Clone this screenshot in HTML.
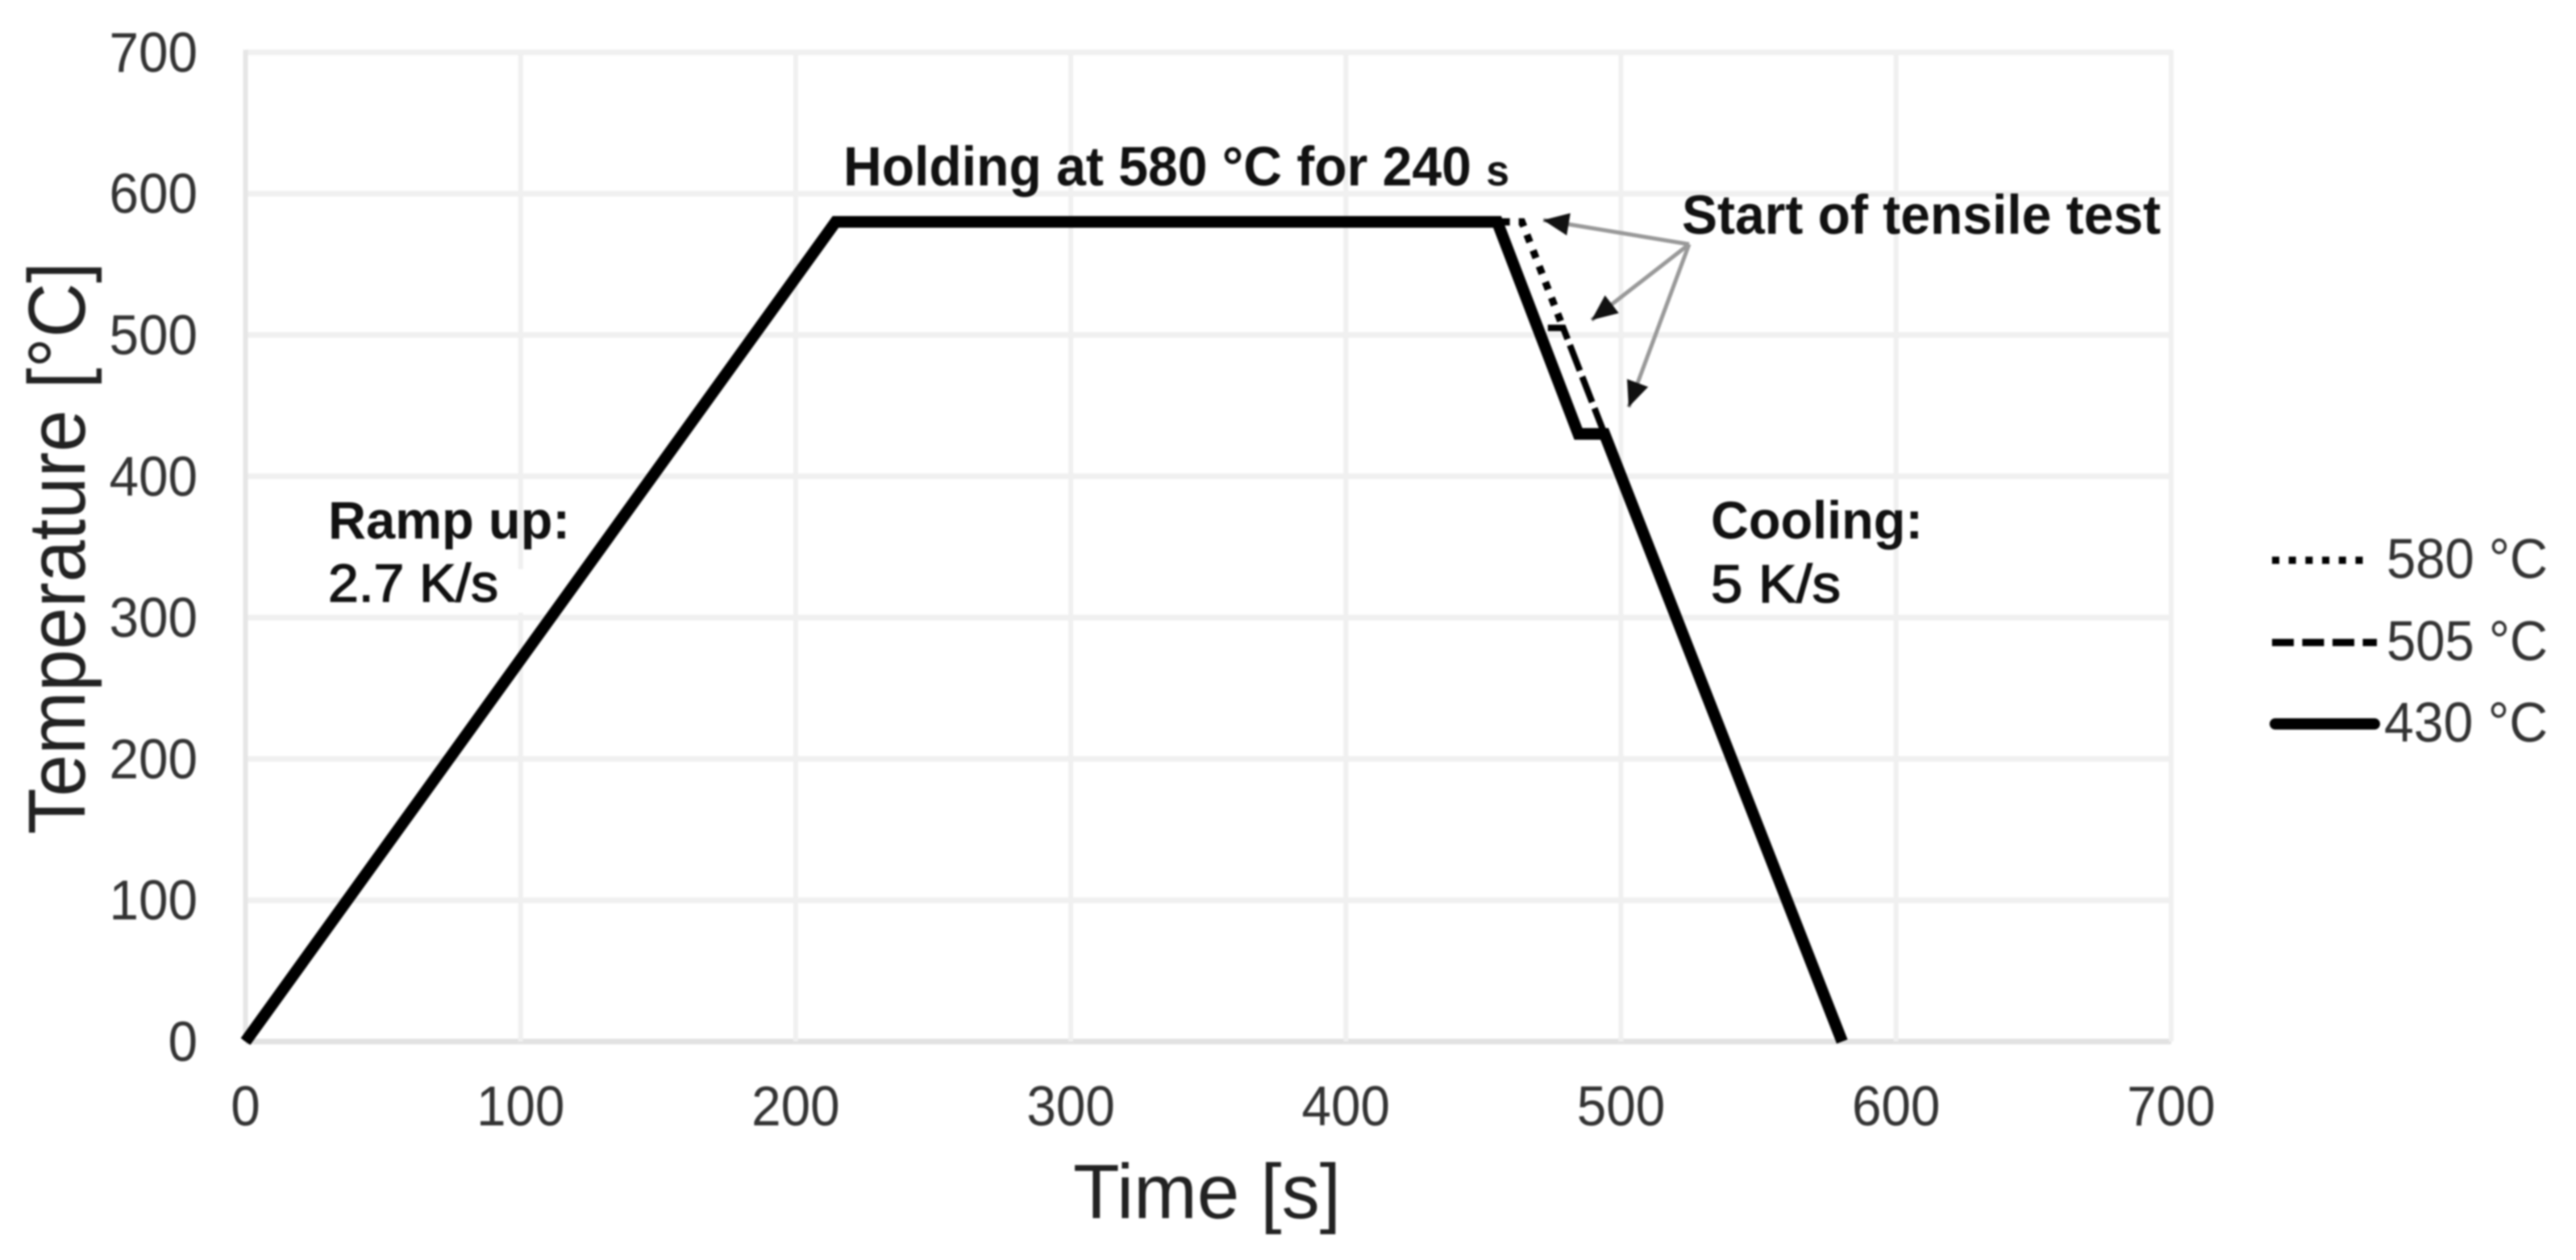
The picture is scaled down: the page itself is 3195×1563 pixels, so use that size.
<!DOCTYPE html>
<html lang="en">
<head>
<meta charset="utf-8">
<title>Temperature profile</title>
<style>
  html, body { margin: 0; padding: 0; background: #fff; }
  body { width: 3195px; height: 1563px; overflow: hidden; }
  svg { display: block; filter: blur(1px); font-family: "Liberation Sans", sans-serif; }
</style>
</head>
<body>
<svg id="chart" xmlns="http://www.w3.org/2000/svg" width="3195" height="1563" viewBox="0 0 3195 1563">
  <defs>
    <marker id="arrow-head" markerUnits="userSpaceOnUse" viewBox="0 0 32 28" refX="32" refY="14" markerWidth="32" markerHeight="28" orient="auto">
      <path d="M0 0 L32 14 L0 28 Z" fill="#111"></path>
    </marker>
    <clipPath id="plot-clip"><rect x="0" y="0" width="3195" height="1296"></rect></clipPath>
  </defs>
  <rect width="3195" height="1563" fill="#ffffff"></rect>
  <g id="grid"></g>
  <rect x="600" y="706" width="90" height="54" fill="#fff"></rect>
  <g id="tick-labels"></g>
  <g id="series" clip-path="url(#plot-clip)"></g>

  <text x="1497" y="1511" font-size="96" text-anchor="middle" fill="#222" textLength="332" lengthAdjust="spacingAndGlyphs">Time [s]</text>
  <text transform="translate(105 680) rotate(-90)" font-size="100" text-anchor="middle" fill="#222" textLength="710" lengthAdjust="spacingAndGlyphs">Temperature [°C]</text>

  <text x="407" y="668" font-size="66" font-weight="bold" fill="#111" textLength="300" lengthAdjust="spacingAndGlyphs">Ramp up:</text>
  <text x="407" y="746" font-size="66" fill="#111" stroke="#111" stroke-width="1.5" textLength="211" lengthAdjust="spacingAndGlyphs">2.7 K/s</text>
  <text x="2122" y="668" font-size="66" font-weight="bold" fill="#111" textLength="263" lengthAdjust="spacingAndGlyphs">Cooling:</text>
  <text x="2122" y="747" font-size="66" fill="#111" stroke="#111" stroke-width="1.5" textLength="161" lengthAdjust="spacingAndGlyphs">5 K/s</text>
  <text x="1046" y="230" font-size="69" font-weight="bold" fill="#111" textLength="826" lengthAdjust="spacingAndGlyphs">Holding at 580 °C for 240 <tspan font-size="54">s</tspan></text>
  <text x="2086" y="290" font-size="69" font-weight="bold" fill="#111" textLength="594" lengthAdjust="spacingAndGlyphs">Start of tensile test</text>

  <g stroke="#999" stroke-width="5" fill="none">
    <line x1="2095" y1="303" x2="1914" y2="273" marker-end="url(#arrow-head)"></line>
    <line x1="2095" y1="303" x2="1974" y2="397" marker-end="url(#arrow-head)"></line>
    <line x1="2095" y1="303" x2="2020" y2="505" marker-end="url(#arrow-head)"></line>
  </g>

  <g>
    <g>
      <line x1="2818" y1="695" x2="2935" y2="695" stroke="#000" stroke-width="9" stroke-dasharray="9 11.7"></line>
      <text x="2960" y="717" font-size="70" fill="#333" textLength="200" lengthAdjust="spacingAndGlyphs">580 °C</text>
    </g>
    <g>
      <line x1="2818" y1="797" x2="2948" y2="797" stroke="#000" stroke-width="9" stroke-dasharray="27 10.5"></line>
      <text x="2960" y="819" font-size="70" fill="#333" textLength="200" lengthAdjust="spacingAndGlyphs">505 °C</text>
    </g>
    <g>
      <line x1="2822" y1="898" x2="2945" y2="898" stroke="#000" stroke-width="14" stroke-linecap="round"></line>
      <text x="2957" y="920" font-size="70" fill="#333" textLength="203" lengthAdjust="spacingAndGlyphs">430 °C</text>
    </g>
  </g>
</svg>
<script>
const xTicks = [0, 100, 200, 300, 400, 500, 600, 700];
const yTicks = [0, 100, 200, 300, 400, 500, 600, 700];
const time580 = [0, 214.5, 464, 479];
const temp580 = [0, 580, 580, 505];
const time505 = [0, 214.5, 455, 470, 479, 494];
const temp505 = [0, 580, 580, 505, 505, 430];
const time430 = [0, 214.5, 455, 484.5, 494, 580.4];
const temp430 = [0, 580, 580, 430, 430, 0];

const NS = 'http://www.w3.org/2000/svg';
const xScale = function (t) { return 304.5 + t * 3.412; };
const yScale = function (v) { return 1292 - v * 1.753; };
const gridGroup = document.getElementById('grid');
const labelGroup = document.getElementById('tick-labels');
const seriesGroup = document.getElementById('series');

function tickWidth(v) { return String(v).length * 36.5; }

yTicks.forEach(function (v) {
  const line = document.createElementNS(NS, 'line');
  
  
  line.setAttribute('x1', xScale(0));
  line.setAttribute('x2', xScale(700));
  line.setAttribute('y1', yScale(v));
  line.setAttribute('y2', yScale(v));
  line.setAttribute('stroke', v === 0 ? '#e2e2e2' : '#f0f0f0');
  line.setAttribute('stroke-width', '7');
  gridGroup.appendChild(line);

  const label = document.createElementNS(NS, 'text');
  
  
  label.setAttribute('x', '245');
  label.setAttribute('y', yScale(v) + 24);
  label.setAttribute('font-size', '70');
  label.setAttribute('fill', '#333');
  label.setAttribute('text-anchor', 'end');
  label.setAttribute('textLength', tickWidth(v));
  label.setAttribute('lengthAdjust', 'spacingAndGlyphs');
  label.textContent = String(v);
  labelGroup.appendChild(label);
});

xTicks.forEach(function (t) {
  const line = document.createElementNS(NS, 'line');
  
  
  line.setAttribute('x1', xScale(t));
  line.setAttribute('x2', xScale(t));
  line.setAttribute('y1', yScale(700) - 3);
  line.setAttribute('y2', yScale(0));
  line.setAttribute('stroke', t === 0 ? '#e6e6e6' : '#f0f0f0');
  line.setAttribute('stroke-width', '6');
  gridGroup.appendChild(line);

  const label = document.createElementNS(NS, 'text');
  
  
  label.setAttribute('x', xScale(t));
  label.setAttribute('y', '1396');
  label.setAttribute('font-size', '70');
  label.setAttribute('fill', '#333');
  label.setAttribute('text-anchor', 'middle');
  label.setAttribute('textLength', tickWidth(t));
  label.setAttribute('lengthAdjust', 'spacingAndGlyphs');
  label.textContent = String(t);
  labelGroup.appendChild(label);
});

function pathFrom(times, temps) {
  return times.map(function (t, i) {
    return (i ? 'L' : 'M') + xScale(t).toFixed(1) + ' ' + yScale(temps[i]).toFixed(1);
  }).join(' ');
}

const path580 = document.createElementNS(NS, 'path');


path580.setAttribute('d', pathFrom(time580, temp580));
path580.setAttribute('fill', 'none');
path580.setAttribute('stroke', '#000');
path580.setAttribute('stroke-width', '9');
path580.setAttribute('stroke-dasharray', '10 11');
seriesGroup.appendChild(path580);

const path505 = document.createElementNS(NS, 'path');


path505.setAttribute('d', pathFrom(time505, temp505));
path505.setAttribute('fill', 'none');
path505.setAttribute('stroke', '#000');
path505.setAttribute('stroke-width', '8');
path505.setAttribute('stroke-dasharray', '34 8');
seriesGroup.appendChild(path505);

const path430 = document.createElementNS(NS, 'path');


path430.setAttribute('d', pathFrom(time430, temp430));
path430.setAttribute('fill', 'none');
path430.setAttribute('stroke', '#000');
path430.setAttribute('stroke-width', '14.5');
path430.setAttribute('stroke-linejoin', 'miter');
seriesGroup.appendChild(path430);
</script>
</body>
</html>
